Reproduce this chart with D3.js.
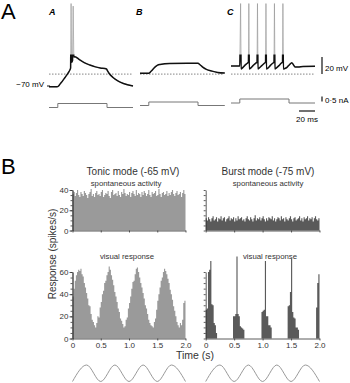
<!DOCTYPE html>
<html>
<head>
<meta charset="utf-8">
<script src="https://cdn.jsdelivr.net/npm/d3@7"></script>
<style>
body { margin: 0; background: #fff; }
svg { display: block; font-family: "Liberation Sans", Arial, sans-serif; }
.axis path, .axis line { stroke: #333; stroke-width: 0.8; }
.axis text { fill: #333; font-size: 8px; }
</style>
</head>
<body>
<div class="chart"></div>
<script>
// ---------- data: panel A (time in ms, membrane potential in mV) ----------
var sweepLabels = ["A", "B", "C"];
var traceA = [[0,-71],[10,-71],[12,-70],[14,-67.5],[17,-64],[20,-60],[23,-56],[25,-53],[27,-49],
  [27.6,27],[28.3,-42],[29.4,-40],[30.2,24],[31,-36],[32.5,-35.5],[38,-39],[44,-42.5],[51,-45.3],
  [58,-47.5],[64,-48.8],[72,-50],[73,-52],[75,-55],[80,-60],[86,-64],[93,-67],[105,-70]];
var traceB = [[0,-55],[11,-55],[13.5,-53],[16,-50.5],[19,-47.5],[22,-45.5],[25,-44.7],[37,-43.5],
  [72.5,-43.3],[75,-45],[78,-47.5],[83,-50.5],[90,-52.5],[97,-54],[106,-54.8]];
var traceC = [[0,-46.5],[11,-46.5],[12,27],[12.6,-50],[14,-49],[17,-46],[20,-43.5],[21.8,-42],
  [22.3,27],[22.9,-50],[24.5,-49],[27.5,-46],[31,-43],[32.6,-42],[33.1,27],[33.7,-50],[35,-49],
  [38.5,-46],[42,-43],[43.2,-42],[43.7,27],[44.3,-50],[46,-49],[49,-46],[52.5,-43],[53.8,-42],
  [54.3,27],[54.9,-50],[56.5,-49],[60,-46],[63,-43],[64.4,-42],[64.9,27],[65.5,-50],[67,-49.5],
  [70,-48],[73,-45],[76,-42.5],[78,-45],[80,-47.5],[84,-47.5],[90,-47],[105,-46.8]];
var thresholdMv = -56;
// injected current (nA): [start, step on, step off, end]
var currentA = [[0,0],[11,0.4],[72.5,0],[105,0]];
var currentB = [[0,0.2],[11,0.55],[72.5,0.2],[106,0.2]];
var currentC = [[0,0.45],[11,0.85],[72.5,0.45],[105,0.45]];

// ---------- data: panel B (20 ms bins over 2 s, spikes/s) ----------
var binWidth = 0.02;
var timeTicks = [0, 0.5, 1.0, 1.5, 2.0];
var spontTonic = [36,38,34,37,40,35,33,38,36,34, 39,37,35,32,36,38,41,34,36,33,
  37,39,35,36,34,38,40,33,35,37, 36,39,34,32,38,40,35,36,37,34,
  39,35,33,38,36,41,37,34,36,35, 38,33,37,39,36,34,40,35,37,36,
  33,38,35,39,37,34,36,40,35,33, 38,36,37,39,34,35,41,36,33,37,
  38,35,36,39,34,37,35,38,40,36, 34,37,39,35,36,38,33,37,40,36];
var spontBurst = [12,10,13,11,9,12,14,10,11,13, 9,12,11,14,10,12,13,9,11,12,
  14,10,12,11,13,9,12,10,14,11, 12,13,10,11,9,12,14,11,10,13,
  11,9,12,15,10,12,11,13,10,12, 14,11,9,12,10,13,12,11,14,10,
  12,9,11,13,12,10,14,11,12,9, 13,11,10,12,14,11,9,12,13,10,
  11,12,14,10,12,9,13,11,12,14, 10,12,11,13,9,12,14,11,10,12];
var visualTonic = [38,45,52,57,60,62,61,63,58,56,50,46,41,36,30,29,22,17,15,12,10,14,20,19,28,
  33,40,43,50,52,57,60,65,62,57,53,48,42,38,33,27,24,18,16,13,10,11,17,19,27,
  32,38,45,51,52,58,63,64,60,55,50,46,41,36,30,27,22,17,14,12,11,10,15,18,26,
  34,40,46,52,55,60,63,61,58,54,50,44,40,35,29,25,20,15,12,10,14,12,17,32,34];
var visualBurst = [26,27,60,62,70,31,30,14,12,5, 0,0,0,0,0,0,0,0,0,0,
  0,0,0,0,20,20,22,74,22,20, 11,10,9,8,0,0,0,0,0,0,
  0,0,0,0,0,0,0,0,0,24,25,26,70,20,20,12,12,10,0,0,
  0,0,0,0,0,0,0,0,0,0, 0,0,29,30,42,72,24,19,18,10,
  10,8,0,0,0,0,0,0,0,0, 0,0,0,0,0,0,0,28,50,58];
// drifting grating stimulus: extremes of the luminance cycle
var stimTimes = [0, 0.25, 0.5, 0.75, 1.0, 1.25, 1.5, 1.75, 2.0];
var stimLevels = [-1, 1, -1, 1, -1, 1, -1, 1, -1];

var width = 350, height = 383;
var svg = d3.select(".chart").append("svg")
    .attr("width", width)
    .attr("height", height);

// ===================== Panel A =====================
svg.append("text").attr("x", 1).attr("y", 19)
    .attr("font-size", 22).text("A");

var sweepLeft = [49, 140, 231];
var yV = d3.scaleLinear().domain([-70, 20]).range([86, 9.5]);
var yI = d3.scaleLinear().domain([0, 1]).range([107.5, 97.5]);
var traces = [traceA, traceB, traceC];
var currents = [currentA, currentB, currentC];

// clip: below -33 mV drawn thick, spikes drawn thin
svg.append("clipPath").attr("id", "sub")
  .append("rect").attr("x", 0).attr("y", yV(-33)).attr("width", width).attr("height", 60);

traces.forEach(function(tr, i) {
    var x = d3.scaleLinear().domain([0, 105]).range([sweepLeft[i], sweepLeft[i] + 84]);
    var line = d3.line().x(function(d){ return x(d[0]); }).y(function(d){ return yV(d[1]); });
    var iline = d3.line().curve(d3.curveStepAfter)
        .x(function(d){ return x(d[0]); }).y(function(d){ return yI(d[1]); });

    svg.append("line")
        .attr("x1", x(0)).attr("x2", x(105))
        .attr("y1", yV(thresholdMv)).attr("y2", yV(thresholdMv))
        .attr("stroke", "#666").attr("stroke-width", 0.8)
        .attr("stroke-dasharray", "1.5,1.5");

    svg.append("path").attr("d", line(tr))
        .attr("fill", "none").attr("stroke", "#999").attr("stroke-width", 0.7);
    svg.append("path").attr("d", line.curve(d3.curveMonotoneX)(tr))
        .attr("clip-path", "url(#sub)")
        .attr("fill", "none").attr("stroke", "#111").attr("stroke-width", 1.5);

    svg.append("path").attr("d", iline(currents[i]))
        .attr("fill", "none").attr("stroke", "#777").attr("stroke-width", 1);

    svg.append("text").attr("x", x(0) + (i == 0 ? 0 : -4)).attr("y", 14.5)
        .attr("font-size", 9).attr("font-style", "italic").attr("font-weight", "bold")
        .text(sweepLabels[i]);

    if (i == 2) {
        // scale bars
        svg.append("line").attr("x1", 322).attr("x2", 322)
            .attr("y1", yV(-56)).attr("y2", yV(-36))
            .attr("stroke", "#111").attr("stroke-width", 1.2);
        svg.append("text").attr("x", 325).attr("y", 70.5).attr("font-size", 8).text("20 mV");
        svg.append("line").attr("x1", 322).attr("x2", 322)
            .attr("y1", yI(0.6)).attr("y2", yI(1.1))
            .attr("stroke", "#111").attr("stroke-width", 1.2);
        svg.append("text").attr("x", 325).attr("y", 103).attr("font-size", 8).text("0·5 nA");
        svg.append("line").attr("x1", x(85)).attr("x2", x(105))
            .attr("y1", 111).attr("y2", 111)
            .attr("stroke", "#111").attr("stroke-width", 1.2);
        svg.append("text").attr("x", x(95)).attr("y", 121.5).attr("font-size", 8)
            .attr("text-anchor", "middle").text("20 ms");
    }
});

svg.append("text").attr("x", 44).attr("y", 87).attr("font-size", 8)
    .attr("text-anchor", "end").text("\u221270 mV");
svg.append("line").attr("x1", 47).attr("x2", 50).attr("y1", yV(-70)).attr("y2", yV(-70))
    .attr("stroke", "#111").attr("stroke-width", 1);

// ===================== Panel B =====================
svg.append("text").attr("x", 1).attr("y", 174)
    .attr("font-size", 22).text("B");

var ySpont = d3.scaleLinear().domain([0, 40]).range([230.5, 190]);
var yVis = d3.scaleLinear().domain([0, 60]).range([338.5, 272]);
var xTonic = d3.scaleLinear().domain([0, 2]).range([72.5, 185.5]);
var xBurst = d3.scaleLinear().domain([0, 2]).range([205.7, 319.5]);

// histogram drawn as one stepped area so adjacent bins have no seams
function bars(vals, x, y, color) {
    var pts = vals.map(function(v, i){ return [i * binWidth, v]; });
    pts.push([vals.length * binWidth, vals[vals.length - 1]]);
    var area = d3.area().curve(d3.curveStepAfter)
        .x(function(d){ return x(d[0]); })
        .y0(y(0))
        .y1(function(d){ return y(d[1]); });
    svg.append("path").attr("d", area(pts)).attr("fill", color);
}

function axes(x, y, top, labelY, labelX) {
    var minor = d3.range(0, top + 0.1, 5);
    svg.append("g").attr("class", "axis")
        .attr("transform", "translate(" + x.range()[0] + ",0)")
        .call(d3.axisLeft(y).tickValues(minor).tickSize(2).tickSizeOuter(0).tickFormat(""));
    if (labelY) {
        svg.append("g").attr("class", "axis")
            .attr("transform", "translate(" + x.range()[0] + ",0)")
            .call(d3.axisLeft(y).tickValues(d3.range(0, top + 0.1, 20)).tickSize(3)
                .tickSizeOuter(0).tickPadding(1));
    }
    svg.append("g").attr("class", "axis")
        .attr("transform", "translate(0," + y(0) + ")")
        .call(d3.axisBottom(x).tickValues(timeTicks).tickSize(2).tickSizeOuter(0).tickPadding(1.5)
            .tickFormat(labelX ? function(d){ return d == 0 ? "0" : d3.format(".1f")(d); } : ""));
}

bars(spontTonic, xTonic, ySpont, "#9a9a9a");
bars(spontBurst, xBurst, ySpont, "#5a5a5a");
bars(visualTonic, xTonic, yVis, "#9a9a9a");
bars(visualBurst, xBurst, yVis, "#5a5a5a");

axes(xTonic, ySpont, 40, true, false);
axes(xBurst, ySpont, 40, false, false);
axes(xTonic, yVis, 60, true, true);
axes(xBurst, yVis, 60, false, true);

// titles
var titles = [["Tonic mode (-65 mV)", 133, 126], ["Burst mode (-75 mV)", 268, 268]];
titles.forEach(function(t) {
    svg.append("text").attr("x", t[1]).attr("y", 174.5).attr("font-size", 10)
        .attr("fill", "#333").attr("text-anchor", "middle").text(t[0]);
    svg.append("text").attr("x", t[2]).attr("y", 185.5).attr("font-size", 7.8)
        .attr("fill", "#333").attr("text-anchor", "middle").text("spontaneous activity");
});
svg.append("text").attr("x", 127).attr("y", 259).attr("font-size", 7.8)
    .attr("fill", "#333").attr("text-anchor", "middle").text("visual response");
svg.append("text").attr("x", 270).attr("y", 259).attr("font-size", 7.8)
    .attr("fill", "#333").attr("text-anchor", "middle").text("visual response");

svg.append("text").attr("x", 176).attr("y", 358.5).attr("font-size", 10.5)
    .attr("fill", "#333").text("Time (s)");
svg.append("text").attr("transform", "translate(56,254) rotate(-90)")
    .attr("font-size", 10).attr("fill", "#333").attr("text-anchor", "middle")
    .text("Response (spikes/s)");

// stimulus sine
var yStim = d3.scaleLinear().domain([-1, 1]).range([381.5, 365]);
[xTonic, xBurst].forEach(function(x) {
    var sline = d3.line().curve(d3.curveMonotoneX)
        .x(function(d, i){ return x(stimTimes[i]); })
        .y(function(d){ return yStim(d); });
    svg.append("path").attr("d", sline(stimLevels))
        .attr("fill", "none").attr("stroke", "#999").attr("stroke-width", 1);
});
</script>
</body>
</html>
